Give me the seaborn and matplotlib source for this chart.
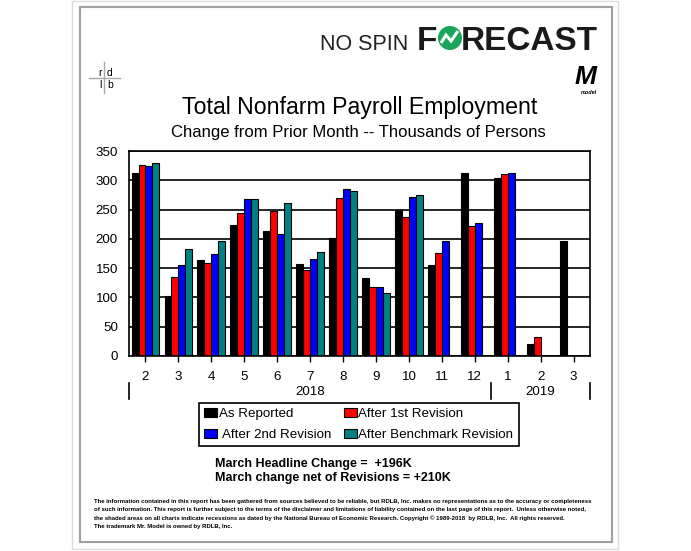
import numpy as np
import pandas as pd
import matplotlib
matplotlib.use("Agg")
import matplotlib.pyplot as plt
import matplotlib.transforms as mtrans
from matplotlib.patches import Patch, Rectangle, Circle
from matplotlib.lines import Line2D
import seaborn as sns

# ---------------- data ----------------
month_keys = ["2018-02", "2018-03", "2018-04", "2018-05", "2018-06", "2018-07", "2018-08",
              "2018-09", "2018-10", "2018-11", "2018-12", "2019-01", "2019-02", "2019-03"]
month_labels = ["2", "3", "4", "5", "6", "7", "8", "9", "10", "11", "12", "1", "2", "3"]
series_names = ["As Reported", "After 1st Revision", "After 2nd Revision", "After Benchmark Revision"]
series_colors = ["#000000", "#FF0000", "#0000FF", "#008080"]
nan = np.nan
as_reported = [313, 103, 164, 223, 213, 157, 201, 134, 250, 155, 312, 304, 20, 196]
after_1st = [326, 135, 159, 244, 248, 147, 270, 118, 237, 176, 222, 311, 33, nan]
after_2nd = [324, 155, 175, 268, 208, 165, 285, 118, 272, 196, 227, 312, nan, nan]
after_bench = [330, 182, 196, 268, 262, 178, 281, 108, 275, nan, nan, nan, nan, nan]
year_labels = ["2018", "2019"]
year_spans = [(0, 10), (11, 13)]

rows = []
for name, vals in zip(series_names, [as_reported, after_1st, after_2nd, after_bench]):
    for k, v in zip(month_keys, vals):
        if not np.isnan(v):
            rows.append({"month": k, "series": name, "value": v})
df = pd.DataFrame(rows)

# ---------------- figure ----------------
W, H = 691, 551
plt.rcParams["font.family"] = ["Liberation Sans", "DejaVu Sans"]
fig = plt.figure(figsize=(W / 100, H / 100), dpi=100)
fig.patch.set_facecolor("white")
PX = mtrans.Affine2D().scale(1 / W, 1 / H) + fig.transFigure


def ptext(x, y, s, **kw):
    return fig.text(x / W, 1 - y / H, s, **kw)


# frames
fig.add_artist(Rectangle((72, H - 549), 546, 548, transform=PX, fill=False, ec="#dcdcdc", lw=1))
fig.add_artist(Rectangle((80, H - 542), 532, 535, transform=PX, fill=False, ec="#a0a0a0", lw=1.5))

# axes
ax_l, ax_r, ax_t, ax_b = 129, 590, 151, 356
ax = fig.add_axes([ax_l / W, 1 - ax_b / H, (ax_r - ax_l) / W, (ax_b - ax_t) / H])
ax.set_facecolor("white")
sns.barplot(data=df, x="month", y="value", hue="series", order=month_keys,
            hue_order=series_names, palette=series_colors, width=0.84,
            edgecolor="black", linewidth=0.8, saturation=1, legend=False,
            errorbar=None, ax=ax)
ax.set_xlim(-0.5, len(month_keys) - 0.5)
ax.set_ylim(0, 350)
ax.set_yticks(np.arange(0, 351, 50))
ax.set_xticks(range(len(month_keys)))
ax.set_xticklabels(month_labels)
ax.set_xlabel("")
ax.set_ylabel("")
ax.set_axisbelow(True)
ax.yaxis.grid(True, color="black", lw=1.2)
for s in ax.spines.values():
    s.set_color("black")
    s.set_linewidth(1.2)
    s.set_visible(True)
ax.tick_params(axis="y", length=0, pad=8, labelsize=9.6)
ax.tick_params(axis="x", length=4.5, width=1, direction="out", pad=6, labelsize=9.6)

# year row
xt = ax.get_xaxis_transform()
for xs in [-0.5, 10.5, 13.5]:
    ax.plot([xs, xs], [-0.132, -0.21], transform=xt, clip_on=False, color="black", lw=1.2)
for lab, (a, b) in zip(year_labels, year_spans):
    ax.text((a + b) / 2, -0.176, lab, transform=xt, ha="center", va="center", fontsize=9.6)

# legend
handles = [Patch(facecolor=c, edgecolor="black", lw=0.8) for c in series_colors]
labels = ["As Reported", "After 1st Revision", " After 2nd Revision", "After Benchmark Revision"]
order = [0, 2, 1, 3]
leg = fig.legend([handles[i] for i in order], [labels[i] for i in order], ncol=2,
                 loc="upper left", bbox_to_anchor=(199 / W, 1 - 403 / H), fontsize=9.6,
                 frameon=True, fancybox=False, framealpha=1, edgecolor="black",
                 handlelength=1.0, handleheight=0.65, handletextpad=0.1,
                 columnspacing=0.95, labelspacing=0.68, borderpad=0.38, borderaxespad=0)
leg.get_frame().set_linewidth(1.2)

# March notes
ptext(215, 467, "March Headline Change =  +196K", fontsize=9, fontweight="bold", va="baseline")
ptext(215, 481, "March change net of Revisions = +210K", fontsize=9, fontweight="bold", va="baseline")

# titles
ptext(359.5, 114, "Total Nonfarm Payroll Employment", fontsize=16.7, ha="center", va="baseline")
ptext(358.5, 137, "Change from Prior Month -- Thousands of Persons", fontsize=12, ha="center", va="baseline")

# logo NO SPIN FORECAST
ptext(320, 50, "NO SPIN", fontsize=15.5, color="#222222", va="baseline")
ptext(417, 50, "F", fontsize=24, fontweight="bold", color="#1a1a1a", va="baseline")
ptext(598, 50, "RECAST", fontsize=24, fontweight="bold", color="#1a1a1a", va="baseline", ha="right")
fig.add_artist(Circle((450, H - 38), 12, transform=PX, fc="#19a55a", ec="none"))
zx = [441, 446, 451, 458]
zy = [43, 35, 41, 31]
fig.add_artist(Line2D(zx, [H - v for v in zy], transform=PX, color="white", lw=2.2,
                      solid_capstyle="butt", solid_joinstyle="miter"))

# rdlb logo
fig.add_artist(Line2D([104.3, 104.3], [H - 62, H - 93], transform=PX, color="#a8a8a8", lw=1))
fig.add_artist(Line2D([89, 120], [H - 78.3, H - 78.3], transform=PX, color="#a8a8a8", lw=1))
ptext(101.5, 76.5, "r", fontsize=7.5, ha="right", va="baseline")
ptext(107, 76.5, "d", fontsize=7.5, ha="left", va="baseline")
ptext(101.5, 88.5, "l", fontsize=7.5, ha="right", va="baseline")
ptext(107, 88.5, "b", fontsize=7.5, ha="left", va="baseline")

# Mr. Model logo
ptext(575, 84, "M", fontsize=19, fontweight="bold", fontstyle="italic", va="baseline")
ptext(589, 93.5, "model", fontsize=4, fontweight="bold", fontstyle="italic", ha="center", va="baseline")

# footer
footer = [
    "The information contained in this report has been gathered from sources believed to be reliable, but RDLB, Inc. makes no representations as to the accuracy or completeness",
    "of such information. This report is further subject to the terms of the disclaimer and limitations of liability contained on the last page of this report.  Unless otherwise noted,",
    "the shaded areas on all charts indicate recessions as dated by the National Bureau of Economic Research. Copyright \u00a9 1989-2018  by RDLB, Inc.  All rights reserved.",
    "The trademark Mr. Model is owned by RDLB, Inc.",
]
fam = ["DejaVu Sans Condensed", "Liberation Sans Narrow", "Liberation Sans", "DejaVu Sans"]
ft = [ptext(94, 502.5 + 8.6 * i, line, fontsize=5, family=fam, fontweight="bold", va="baseline")
      for i, line in enumerate(footer)]
r = fig.canvas.get_renderer()
w0 = ft[0].get_window_extent(r).width
fs = 5 * 503 / w0
for t in ft:
    t.set_fontsize(fs)

fig.savefig("out.png", dpi=100, facecolor="white")
